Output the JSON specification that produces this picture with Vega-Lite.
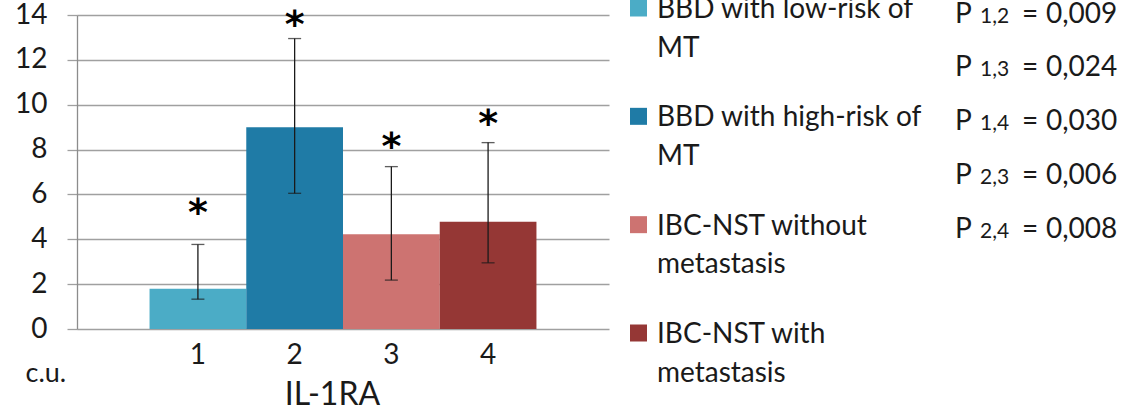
{
  "$schema": "https://vega.github.io/schema/vega-lite/v6.json",
  "autosize": {"type": "none"},
  "padding": {"left": 77, "top": 15, "right": 1061, "bottom": 393},
  "background": "white",
  "bounds": "flush",
  "spacing": 21,
  "config": {"view": {"stroke": null}, "font": "Lato"},
  "datasets": {
    "bars": [
      {"grp": "1", "group": "BBD with low-risk of MT", "label": "BBD with low-risk of\nMT", "value": 1.8, "lo": 1.33, "hi": 3.77, "star": 5.45},
      {"grp": "2", "group": "BBD with high-risk of MT", "label": "BBD with high-risk of\nMT", "value": 9.0, "lo": 6.05, "hi": 12.95, "star": 13.8},
      {"grp": "3", "group": "IBC-NST without metastasis", "label": "IBC-NST without\nmetastasis", "value": 4.22, "lo": 2.18, "hi": 7.24, "star": 8.4},
      {"grp": "4", "group": "IBC-NST with metastasis", "label": "IBC-NST with\nmetastasis", "value": 4.78, "lo": 2.95, "hi": 8.31, "star": 9.4}
    ],
    "pvals": [
      {"pair": "1,2", "p": "0,009"},
      {"pair": "1,3", "p": "0,024"},
      {"pair": "1,4", "p": "0,030"},
      {"pair": "2,3", "p": "0,006"},
      {"pair": "2,4", "p": "0,008"}
    ]
  },
  "hconcat": [
    {
      "width": 532,
      "height": 314,
      "data": {"name": "bars"},
      "encoding": {
        "x": {
          "field": "grp", "type": "nominal", "sort": null,
          "scale": {"paddingInner": 0, "paddingOuter": 0.75},
          "axis": {
            "title": "IL-1RA", "labelAngle": 0, "domain": false, "ticks": false, "grid": false,
            "labelFont": "Lato", "labelFontSize": 28, "labelColor": "#1a1a1a", "labelPadding": 12,
            "titleFont": "Lato", "titleFontSize": 32, "titleFontWeight": "normal", "titleColor": "#1a1a1a",
            "titleX": 255, "titleY": 75, "titleAlign": "center", "titleBaseline": "alphabetic"
          }
        }
      },
      "layer": [
        {
          "mark": {"type": "bar"},
          "encoding": {
            "y": {
              "field": "value", "type": "quantitative", "title": "c.u.",
              "scale": {"domain": [0, 14], "nice": false},
              "axis": {
                "values": [0, 2, 4, 6, 8, 10, 12, 14], "grid": true, "gridColor": "#a0a0a0", "gridWidth": 1.3,
                "tickSize": 10, "tickColor": "#a0a0a0", "tickWidth": 1.3,
                "domainColor": "#8c8c8c", "domainWidth": 1.3,
                "labelFont": "Lato", "labelFontSize": 28, "labelColor": "#1a1a1a", "labelPadding": 20,
                "titleAngle": 0, "titleX": -52, "titleY": 366, "titleAlign": "left", "titleBaseline": "alphabetic",
                "titleFont": "Lato", "titleFontSize": 27, "titleFontWeight": "normal", "titleColor": "#1a1a1a"
              }
            },
            "color": {
              "field": "group", "type": "nominal",
              "scale": {
                "domain": ["BBD with low-risk of MT", "BBD with high-risk of MT", "IBC-NST without metastasis", "IBC-NST with metastasis"],
                "range": ["#4BACC6", "#1F7BA6", "#CD7371", "#953735"]
              },
              "legend": null
            }
          }
        },
        {
          "mark": {"type": "rule", "color": "#1a1a1a", "strokeWidth": 1.3},
          "encoding": {
            "y": {"field": "lo", "type": "quantitative", "title": "c.u."},
            "y2": {"field": "hi"}
          }
        },
        {
          "mark": {"type": "tick", "color": "#1a1a1a", "thickness": 1.3, "size": 13},
          "encoding": {"y": {"field": "lo", "type": "quantitative", "title": "c.u."}}
        },
        {
          "mark": {"type": "tick", "color": "#1a1a1a", "thickness": 1.3, "size": 13},
          "encoding": {"y": {"field": "hi", "type": "quantitative", "title": "c.u."}}
        },
        {
          "mark": {"type": "text", "text": "*", "font": "DejaVu Sans", "fontWeight": "bold", "fontSize": 38, "baseline": "alphabetic", "align": "center", "dy": 18, "color": "#000000"},
          "encoding": {"y": {"field": "star", "type": "quantitative", "title": "c.u."}}
        }
      ]
    },
    {
      "width": 17,
      "height": 314,
      "data": {"name": "bars"},
      "encoding": {
        "y": {
          "field": "group", "type": "nominal",
          "scale": {
            "type": "point", "padding": 0, "range": [-7, 318],
            "domain": ["BBD with low-risk of MT", "BBD with high-risk of MT", "IBC-NST without metastasis", "IBC-NST with metastasis"]
          },
          "axis": null
        }
      },
      "layer": [
        {
          "mark": {"type": "square", "size": 289, "opacity": 1, "filled": true},
          "encoding": {
            "color": {
              "field": "group", "type": "nominal",
              "scale": {
                "domain": ["BBD with low-risk of MT", "BBD with high-risk of MT", "IBC-NST without metastasis", "IBC-NST with metastasis"],
                "range": ["#4BACC6", "#1F7BA6", "#CD7371", "#953735"]
              },
              "legend": null
            }
          }
        },
        {
          "mark": {"type": "text", "align": "left", "baseline": "alphabetic", "dx": 18.5, "dy": 10, "lineBreak": "\n", "lineHeight": 38.5, "font": "Lato", "fontSize": 28, "color": "#1a1a1a"},
          "encoding": {"text": {"field": "label"}}
        }
      ]
    },
    {
      "width": 574,
      "height": 314,
      "data": {"name": "pvals"},
      "encoding": {
        "y": {
          "field": "pair", "type": "nominal",
          "scale": {"type": "point", "padding": 0, "range": [-2.5, 212.5], "domain": ["1,2", "1,3", "1,4", "2,3", "2,4"]},
          "axis": null
        }
      },
      "layer": [
        {"mark": {"type": "text", "text": "P", "align": "left", "baseline": "alphabetic", "dy": 10, "font": "Lato", "fontSize": 28, "color": "#1a1a1a"}},
        {"mark": {"type": "text", "align": "left", "baseline": "alphabetic", "dx": 25, "dy": 10, "font": "Lato", "fontSize": 21, "color": "#1a1a1a"}, "encoding": {"text": {"field": "pair"}}},
        {"mark": {"type": "text", "text": "=", "align": "left", "baseline": "alphabetic", "dx": 67, "dy": 10, "font": "Lato", "fontSize": 28, "color": "#1a1a1a"}},
        {"mark": {"type": "text", "align": "left", "baseline": "alphabetic", "dx": 91, "dy": 10, "font": "Lato", "fontSize": 28, "color": "#1a1a1a"}, "encoding": {"text": {"field": "p"}}}
      ]
    }
  ]
}
